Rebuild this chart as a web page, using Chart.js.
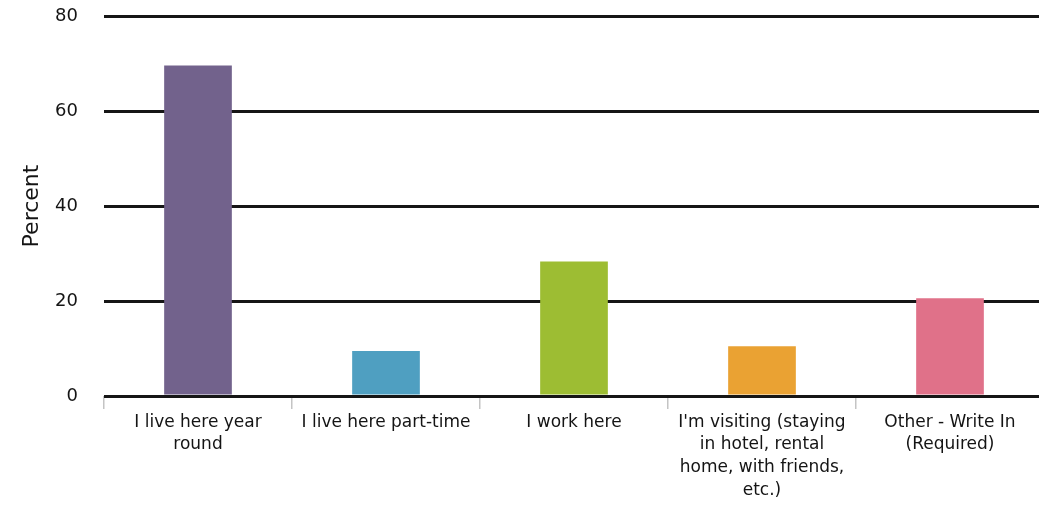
<!DOCTYPE html>
<html>
<head>
<meta charset="utf-8">
<script src="https://cdn.jsdelivr.net/npm/chart.js@4/dist/chart.umd.min.js"></script>
<style>
  html, body { margin: 0; padding: 0; background: #ffffff; overflow: hidden; }
  #wrap { width: 1044px; height: 512px; }
</style>
</head>
<body>
<div id="wrap"><canvas id="c" width="1044" height="512"></canvas></div>
<script>
const categories = [
  ["I live here year", "round"],
  ["I live here part-time"],
  ["I work here"],
  ["I'm visiting (staying", "in hotel, rental", "home, with friends,", "etc.)"],
  ["Other - Write In", "(Required)"]
];
const percentValues = [69.6, 9.5, 28.3, 10.5, 20.6];
const barColors = ["#72628c", "#4f9fc1", "#9dbd33", "#eaa233", "#e07189"];
const yTicks = [0, 20, 40, 60, 80];

new Chart(document.getElementById('c'), {
  type: 'bar',
  data: {
    labels: categories,
    datasets: [{
      data: percentValues,
      backgroundColor: barColors,
      borderWidth: 0,
      categoryPercentage: 1.0,
      barPercentage: 0.36
    }]
  },
  options: {
    responsive: false,
    animation: false,
    layout: { padding: { top: 16, right: 0, bottom: 0, left: 0 } },
    plugins: { legend: { display: false }, tooltip: { enabled: false } },
    scales: {
      x: {
        offset: true,
        border: { display: false },
        grid: {
          offset: true,
          drawOnChartArea: false,
          drawTicks: true,
          tickLength: 13,
          color: '#c4c4c4',
          lineWidth: 1.5
        },
        ticks: {
          autoSkip: false,
          maxRotation: 0,
          minRotation: 0,
          padding: 2,
          color: '#141414',
          font: { family: 'DejaVu Sans', size: 17, lineHeight: 1.33 }
        },
        afterFit: (s) => { s.height = 116; s.paddingLeft = 0; s.paddingRight = 0; }
      },
      y: {
        min: 0,
        max: 80,
        afterBuildTicks: (s) => { s.ticks = yTicks.map(v => ({ value: v })); },
        border: { display: false },
        grid: {
          drawTicks: false,
          color: '#161616',
          lineWidth: 3
        },
        ticks: {
          padding: 26,
          color: '#141414',
          font: { family: 'DejaVu Sans', size: 18 }
        },
        title: {
          display: true,
          text: 'Percent',
          color: '#141414',
          font: { family: 'DejaVu Sans', size: 22 },
          padding: { top: 19, bottom: 0 }
        },
        afterFit: (s) => { s.width = 104; s.paddingTop = 0; s.paddingBottom = 0; }
      }
    }
  }
});
</script>
</body>
</html>
